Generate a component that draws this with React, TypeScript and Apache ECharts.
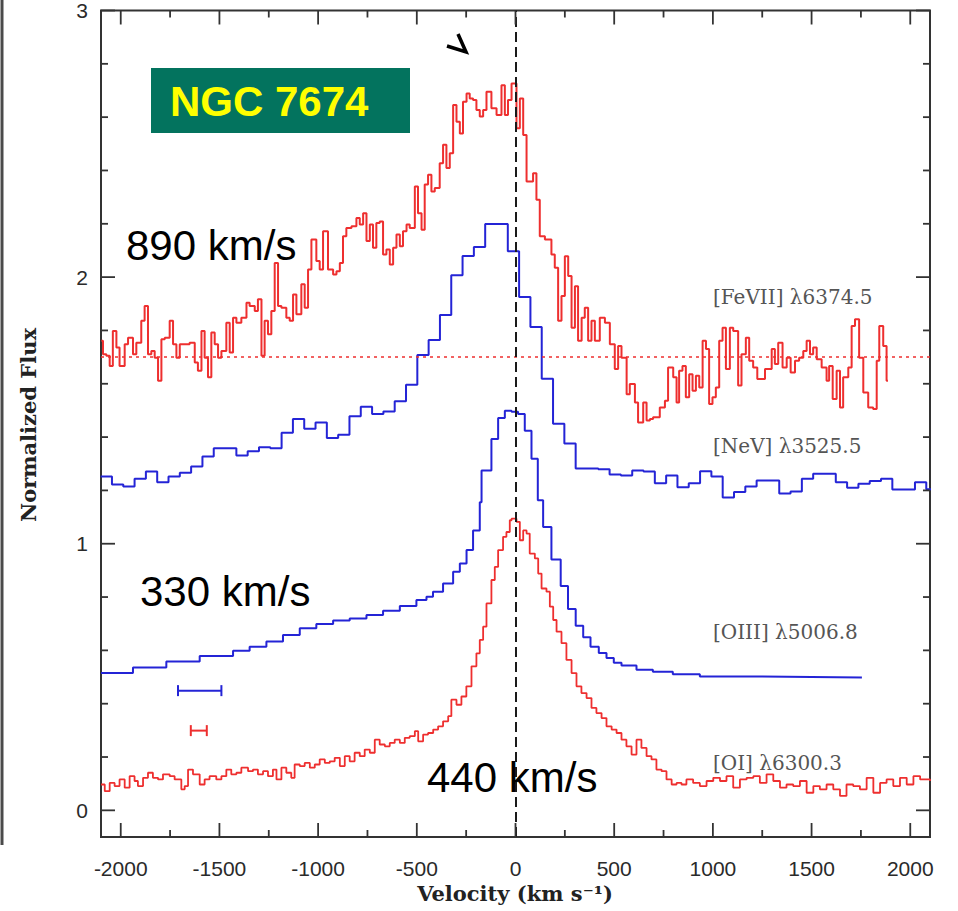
import React, { useEffect, useRef } from "react";
import * as echarts from "echarts";

// ---------- axis ticks ----------
const xTicksMajor = [-2000, -1500, -1000, -500, 0, 500, 1000, 1500, 2000];
const xTicksMinor = [-1750, -1250, -750, -250, 250, 750, 1250, 1750];
const yTicksMajor = [0, 1, 2, 3];
const yTicksMinor = [0.2, 0.4, 0.6, 0.8, 1.2, 1.4, 1.6, 1.8, 2.2, 2.4, 2.6, 2.8];

// ---------- texts ----------
const galaxyName = "NGC 7674";
const widthLabels = ["890 km/s", "330 km/s", "440 km/s"];
const lineLabels = ["[FeVII] λ6374.5", "[NeV] λ3525.5", "[OIII] λ5006.8", "[OI] λ6300.3"];
const xAxisTitle = "Velocity (km s⁻¹)";
const yAxisTitle = "Normalized Flux";

// ---------- data ----------
const feviiContinuum = 1.7;
const zeroVelocity = 0;

// [FeVII] : [velocity bin left edge, flux]
const feviiData: number[][] = [
  [-2098, 1.761], [-2090, 1.711], [-2073, 1.705], [-2056, 1.667], [-2040, 1.798], [-2022, 1.736], [-2006, 1.667],
  [-1980, 1.748], [-1963, 1.773], [-1938, 1.711], [-1921, 1.754], [-1896, 1.836], [-1879, 1.892], [-1862, 1.711],
  [-1845, 1.723], [-1828, 1.698], [-1811, 1.611], [-1794, 1.767], [-1777, 1.773], [-1752, 1.836], [-1735, 1.748],
  [-1718, 1.698], [-1701, 1.748], [-1651, 1.754], [-1625, 1.68], [-1609, 1.649], [-1591, 1.798], [-1575, 1.698],
  [-1558, 1.624], [-1541, 1.792], [-1524, 1.748], [-1507, 1.698], [-1490, 1.723], [-1465, 1.829], [-1448, 1.717],
  [-1431, 1.848], [-1414, 1.829], [-1389, 1.848], [-1363, 1.904], [-1347, 1.892], [-1321, 1.873], [-1305, 1.917],
  [-1287, 1.705], [-1271, 1.836], [-1254, 1.786], [-1237, 1.873], [-1220, 2.053], [-1203, 1.892], [-1186, 1.885],
  [-1161, 1.848], [-1144, 1.836], [-1127, 1.935], [-1110, 1.861], [-1085, 1.973], [-1068, 1.885], [-1051, 2.029],
  [-1034, 2.141], [-1009, 2.06], [-992, 2.029], [-975, 2.172], [-950, 2.029], [-924, 2.01], [-907, 2.022],
  [-890, 2.053], [-874, 2.153], [-857, 2.184], [-831, 2.191], [-806, 2.222], [-789, 2.197], [-772, 2.24],
  [-755, 2.135], [-738, 2.197], [-722, 2.11], [-705, 2.203], [-688, 2.209], [-671, 2.085], [-654, 2.104],
  [-637, 2.047], [-620, 2.11], [-603, 2.16], [-586, 2.116], [-570, 2.172], [-552, 2.197], [-536, 2.184],
  [-510, 2.34], [-494, 2.24], [-476, 2.178], [-460, 2.347], [-443, 2.384], [-426, 2.321], [-409, 2.334],
  [-384, 2.427], [-367, 2.496], [-350, 2.409], [-333, 2.465], [-316, 2.646], [-299, 2.583], [-282, 2.539],
  [-266, 2.658], [-248, 2.689], [-232, 2.67], [-215, 2.664], [-198, 2.627], [-181, 2.602], [-164, 2.627],
  [-147, 2.695], [-122, 2.633], [-96, 2.608], [-71, 2.72], [-54, 2.608], [-38, 2.664], [-20, 2.726],
  [5, 2.558], [22, 2.67], [39, 2.533], [56, 2.359], [89, 2.39], [106, 2.29], [123, 2.153], [149, 2.141],
  [182, 2.085], [199, 2.035], [216, 1.836], [233, 1.929], [250, 2.078], [267, 2.004], [284, 1.81], [301, 1.966],
  [317, 1.761], [335, 1.848], [351, 1.885], [368, 1.761], [385, 1.836], [402, 1.761], [427, 1.848], [453, 1.829],
  [478, 1.748], [503, 1.655], [520, 1.742], [537, 1.698], [563, 1.561], [579, 1.599], [605, 1.53], [621, 1.455],
  [647, 1.53], [664, 1.462], [681, 1.468], [697, 1.474], [731, 1.511], [757, 1.536], [773, 1.661], [799, 1.624],
  [816, 1.53], [829, 1.649], [846, 1.667], [863, 1.549], [880, 1.636], [897, 1.574], [914, 1.63], [931, 1.586],
  [948, 1.761], [965, 1.73], [981, 1.524], [998, 1.549], [1015, 1.586], [1032, 1.761], [1049, 1.81], [1066, 1.655],
  [1086, 1.81], [1103, 1.798], [1128, 1.593], [1145, 1.711], [1167, 1.773], [1184, 1.686], [1204, 1.661],
  [1225, 1.618], [1264, 1.655], [1298, 1.73], [1314, 1.674], [1331, 1.754], [1353, 1.661], [1374, 1.698],
  [1394, 1.642], [1416, 1.686], [1437, 1.698], [1458, 1.723], [1475, 1.761], [1492, 1.711], [1508, 1.736],
  [1526, 1.692], [1551, 1.661], [1576, 1.611], [1589, 1.667], [1607, 1.543], [1627, 1.649], [1644, 1.511],
  [1660, 1.624], [1686, 1.661], [1703, 1.817], [1720, 1.842], [1741, 1.698], [1762, 1.567], [1787, 1.511],
  [1812, 1.505], [1830, 1.686], [1843, 1.817], [1863, 1.742], [1880, 1.611], [1887, 1.611],
];

// [NeV] : regular bins
const nevBinStart = -2101.8;
const nevBinWidth = 57.3;
const nevFlux = [
  1.252, 1.222, 1.215, 1.244, 1.271, 1.231, 1.252, 1.266, 1.29, 1.327, 1.358, 1.358, 1.331, 1.347, 1.362, 1.358,
  1.416, 1.468, 1.431, 1.455, 1.397, 1.409, 1.478, 1.514, 1.487, 1.496, 1.534, 1.596, 1.708, 1.764, 1.858, 2.007,
  2.079, 2.113, 2.199, 2.199, 2.097, 1.925, 1.813, 1.619, 1.45, 1.376, 1.282, 1.282, 1.279, 1.26, 1.256, 1.275,
  1.271, 1.227, 1.256, 1.212, 1.227, 1.272, 1.252, 1.173, 1.194, 1.215, 1.237, 1.237, 1.188, 1.196, 1.244, 1.262,
  1.262, 1.231, 1.21, 1.225, 1.235, 1.244, 1.203, 1.203, 1.231, 1.204,
];

// [OIII]
const oiiiData: number[][] = [
  [-2100, 0.515], [-1938, 0.536], [-1769, 0.558], [-1600, 0.579], [-1431, 0.599], [-1347, 0.614], [-1262, 0.633],
  [-1178, 0.658], [-1093, 0.683], [-1009, 0.699], [-924, 0.712], [-840, 0.72], [-755, 0.733], [-671, 0.749],
  [-586, 0.766], [-502, 0.789], [-451, 0.801], [-418, 0.82], [-367, 0.851], [-316, 0.895], [-282, 0.926],
  [-248, 0.976], [-215, 1.05], [-181, 1.156], [-172, 1.275], [-122, 1.393], [-88, 1.472], [-54, 1.499],
  [-20, 1.495], [13, 1.487], [47, 1.424], [81, 1.319], [113, 1.163], [140, 1.063], [182, 0.941], [229, 0.841],
  [266, 0.755], [305, 0.692], [343, 0.649], [380, 0.614], [422, 0.59], [461, 0.571], [498, 0.554], [537, 0.543],
  [613, 0.527], [696, 0.52], [797, 0.51], [934, 0.502], [1200, 0.5], [1500, 0.498], [1755, 0.498],
];

// [OI]
const oiData: number[][] = [
  [-2100, 0.097], [-2081, 0.072], [-2056, 0.103], [-2031, 0.091], [-2006, 0.116], [-1980, 0.085], [-1955, 0.128],
  [-1930, 0.11], [-1913, 0.091], [-1887, 0.122], [-1862, 0.141], [-1837, 0.122], [-1811, 0.116], [-1786, 0.135],
  [-1752, 0.128], [-1727, 0.116], [-1693, 0.079], [-1676, 0.091], [-1659, 0.153], [-1634, 0.135], [-1600, 0.097],
  [-1575, 0.116], [-1550, 0.128], [-1516, 0.116], [-1490, 0.128], [-1465, 0.153], [-1440, 0.135], [-1414, 0.141],
  [-1389, 0.16], [-1355, 0.147], [-1330, 0.153], [-1305, 0.135], [-1279, 0.147], [-1254, 0.128], [-1229, 0.153],
  [-1211, 0.116], [-1186, 0.16], [-1161, 0.141], [-1136, 0.122], [-1119, 0.172], [-1093, 0.166], [-1068, 0.178],
  [-1042, 0.16], [-1017, 0.172], [-992, 0.191], [-966, 0.178], [-941, 0.184], [-916, 0.197], [-890, 0.166],
  [-865, 0.203], [-840, 0.184], [-815, 0.216], [-789, 0.203], [-764, 0.228], [-738, 0.216], [-713, 0.265],
  [-688, 0.247], [-662, 0.24], [-637, 0.253], [-612, 0.265], [-586, 0.253], [-561, 0.272], [-536, 0.278],
  [-510, 0.297], [-493, 0.259], [-468, 0.284], [-443, 0.29], [-417, 0.303], [-392, 0.315], [-367, 0.334],
  [-341, 0.353], [-325, 0.415], [-299, 0.396], [-274, 0.427], [-249, 0.465], [-223, 0.54], [-198, 0.589],
  [-181, 0.639], [-164, 0.689], [-147, 0.776], [-122, 0.864], [-105, 0.913], [-88, 0.976], [-63, 1.026],
  [-46, 1.044], [-29, 1.088], [-20, 1.094], [5, 1.082], [22, 1.013], [39, 1.05], [56, 1.038], [72, 0.963],
  [98, 0.945], [115, 0.888], [132, 0.832], [157, 0.82], [174, 0.764], [191, 0.714], [208, 0.67], [233, 0.627],
  [258, 0.564], [284, 0.515], [309, 0.465], [334, 0.44], [360, 0.421], [385, 0.384], [410, 0.365], [436, 0.346],
  [461, 0.315], [487, 0.303], [512, 0.29], [537, 0.265], [562, 0.24], [588, 0.209], [613, 0.265], [638, 0.234],
  [664, 0.203], [689, 0.191], [714, 0.153], [740, 0.147], [765, 0.116], [791, 0.097], [816, 0.103], [841, 0.097],
  [866, 0.116], [900, 0.103], [934, 0.091], [968, 0.11], [1002, 0.122], [1036, 0.11], [1069, 0.128], [1103, 0.085],
  [1137, 0.116], [1171, 0.122], [1205, 0.128], [1238, 0.103], [1272, 0.135], [1306, 0.11], [1340, 0.085],
  [1373, 0.097], [1407, 0.091], [1441, 0.11], [1475, 0.066], [1509, 0.091], [1542, 0.079], [1576, 0.097],
  [1610, 0.079], [1644, 0.054], [1677, 0.097], [1711, 0.091], [1745, 0.079], [1779, 0.122], [1813, 0.066],
  [1847, 0.103], [1880, 0.116], [1914, 0.091], [1948, 0.122], [1982, 0.097], [2016, 0.128], [2050, 0.116],
  [2100, 0.11],
];

// instrumental resolution bars: [from velocity, flux level, to velocity]
const oiiiResolution = [-1710, 0.449, -1490];
const oiResolution = [-1645, 0.299, -1564];

// ---------- styles ----------
const RED = "#ee2f2f";
const BLUE = "#2424d6";
const FRAME = "#333333";
const SANS = '"Liberation Sans", Arial, Helvetica, sans-serif';
const SERIF = '"DejaVu Serif", serif';

const nevData: number[][] = nevFlux.map((f, i) => [nevBinStart + i * nevBinWidth, f]);
nevData.push([nevBinStart + nevFlux.length * nevBinWidth, nevFlux[nevFlux.length - 1]]);

function tickSeries(vals: number[], axis: "x" | "y", len: number) {
  return {
    type: "custom",
    silent: true,
    clip: false,
    z: 10,
    data: vals.map((v) => (axis === "x" ? [v, 1] : [0, v])),
    renderItem: (params: any, api: any) => {
      const cs = params.coordSys;
      const st = { stroke: FRAME, lineWidth: 1.8 };
      if (axis === "x") {
        const x = api.coord([api.value(0), 1])[0];
        const b = cs.y + cs.height;
        const t = cs.y;
        return {
          type: "group",
          children: [
            { type: "line", shape: { x1: x, y1: b, x2: x, y2: b - len }, style: st },
            { type: "line", shape: { x1: x, y1: t, x2: x, y2: t + len }, style: st },
          ],
        };
      }
      const y = api.coord([0, api.value(1)])[1];
      const l = cs.x;
      const r = cs.x + cs.width;
      return {
        type: "group",
        children: [
          { type: "line", shape: { x1: l, y1: y, x2: l + len, y2: y }, style: st },
          { type: "line", shape: { x1: r, y1: y, x2: r - len, y2: y }, style: st },
        ],
      };
    },
  };
}

function resolutionSeries(d: number[], color: string) {
  return {
    type: "custom",
    silent: true,
    clip: false,
    z: 4,
    data: [d],
    renderItem: (_p: any, api: any) => {
      const a = api.coord([api.value(0), api.value(1)]);
      const b = api.coord([api.value(2), api.value(1)]);
      const h = 5.5;
      const st = { stroke: color, lineWidth: 2 };
      return {
        type: "group",
        children: [
          { type: "line", shape: { x1: a[0], y1: a[1], x2: b[0], y2: b[1] }, style: st },
          { type: "line", shape: { x1: a[0], y1: a[1] - h, x2: a[0], y2: a[1] + h }, style: st },
          { type: "line", shape: { x1: b[0], y1: b[1] - h, x2: b[0], y2: b[1] + h }, style: st },
        ],
      };
    },
  };
}

function stepLine(name: string, data: number[][], color: string, width: number, extra: any = {}) {
  return {
    name,
    type: "line",
    step: "end",
    data,
    symbol: "none",
    clip: true,
    lineStyle: { color, width },
    itemStyle: { color },
    z: 3,
    ...extra,
  };
}

const option: any = {
  animation: false,
  backgroundColor: "#ffffff",
  grid: {
    left: 101,
    top: 9,
    right: 28,
    bottom: 74,
    show: true,
    borderColor: FRAME,
    borderWidth: 2,
    backgroundColor: "transparent",
  },
  xAxis: {
    type: "value",
    min: -2100,
    max: 2100,
    interval: 50,
    axisLine: { show: false },
    axisTick: { show: false },
    splitLine: { show: false },
    axisLabel: {
      margin: 21,
      color: "#2a2a2a",
      fontSize: 21,
      fontFamily: SANS,
      formatter: (v: number) => (Math.abs(v % 500) < 1e-6 ? String(Math.round(v)) : ""),
    },
  },
  yAxis: {
    type: "value",
    min: -0.1,
    max: 3,
    interval: 0.1,
    axisLine: { show: false },
    axisTick: { show: false },
    splitLine: { show: false },
    axisLabel: {
      margin: 13,
      color: "#2a2a2a",
      fontSize: 21,
      fontFamily: SANS,
      formatter: (v: number) => {
        const r = Math.round(v);
        return Math.abs(v - r) < 1e-6 ? String(r) : "";
      },
    },
  },
  series: [
    stepLine("[FeVII]", feviiData, RED, 2, {
      markLine: {
        silent: true,
        symbol: ["none", "none"],
        label: { show: false },
        lineStyle: { color: RED, width: 1.6, type: [3, 4] },
        data: [{ yAxis: feviiContinuum }],
      },
    }),
    stepLine("[NeV]", nevData, BLUE, 2, {
      markLine: {
        silent: true,
        symbol: ["none", "none"],
        label: { show: false },
        lineStyle: { color: "#1a1a1a", width: 2, type: [10, 5] },
        data: [{ xAxis: zeroVelocity }],
        z: 6,
      },
    }),
    stepLine("[OIII]", oiiiData, BLUE, 2),
    stepLine("[OI]", oiData, RED, 1.8),
    resolutionSeries(oiiiResolution, BLUE),
    resolutionSeries(oiResolution, RED),
    tickSeries(xTicksMajor, "x", 14),
    tickSeries(xTicksMinor, "x", 7),
    tickSeries(yTicksMajor, "y", 14),
    tickSeries(yTicksMinor, "y", 7),
  ],
  graphic: [
    { type: "line", shape: { x1: 2, y1: 0, x2: 2, y2: 845 }, style: { stroke: "#4a4a4a", lineWidth: 3 } },
    { type: "rect", shape: { x: 151, y: 68, width: 259, height: 65 }, style: { fill: "#03735e" } },
    {
      type: "text",
      x: 170,
      y: 101,
      style: {
        text: galaxyName,
        fill: "#ffff00",
        fontSize: 42,
        fontWeight: "bold",
        fontFamily: SANS,
        verticalAlign: "middle",
        align: "left",
      },
    },
    {
      type: "text",
      x: 126,
      y: 245,
      style: { text: widthLabels[0], fill: "#000", fontSize: 42, fontFamily: SANS, verticalAlign: "middle" },
    },
    {
      type: "text",
      x: 140,
      y: 591,
      style: { text: widthLabels[1], fill: "#000", fontSize: 42, fontFamily: SANS, verticalAlign: "middle" },
    },
    {
      type: "text",
      x: 427,
      y: 777,
      style: { text: widthLabels[2], fill: "#000", fontSize: 42, fontFamily: SANS, verticalAlign: "middle" },
    },
    {
      type: "polyline",
      shape: { points: [[458, 34], [466, 52], [447, 46]] },
      style: { stroke: "#000", lineWidth: 3.5, fill: null },
    },
    {
      type: "text",
      x: 713,
      y: 297,
      style: { text: lineLabels[0], fill: "#555", fontSize: 20, fontFamily: SERIF, verticalAlign: "middle" },
    },
    {
      type: "text",
      x: 713,
      y: 446,
      style: { text: lineLabels[1], fill: "#555", fontSize: 20, fontFamily: SERIF, verticalAlign: "middle" },
    },
    {
      type: "text",
      x: 713,
      y: 632,
      style: { text: lineLabels[2], fill: "#555", fontSize: 20, fontFamily: SERIF, verticalAlign: "middle" },
    },
    {
      type: "text",
      x: 713,
      y: 763,
      style: { text: lineLabels[3], fill: "#555", fontSize: 20, fontFamily: SERIF, verticalAlign: "middle" },
    },
    {
      type: "text",
      x: 515,
      y: 893,
      style: {
        text: xAxisTitle,
        fill: "#222",
        fontSize: 21,
        fontWeight: "bold",
        fontFamily: SERIF,
        align: "center",
        verticalAlign: "middle",
      },
    },
    {
      type: "text",
      x: 28,
      y: 425,
      rotation: Math.PI / 2,
      style: {
        text: yAxisTitle,
        fill: "#222",
        fontSize: 21,
        fontWeight: "bold",
        fontFamily: SERIF,
        align: "center",
        verticalAlign: "middle",
      },
    },
  ],
};

export default function App() {
  const ref = useRef<HTMLDivElement>(null);
  useEffect(() => {
    const chart = echarts.init(ref.current as HTMLDivElement, null, { renderer: "svg" });
    chart.setOption(option);
    return () => chart.dispose();
  }, []);
  return (
    <div
      ref={ref}
      style={{ position: "fixed", left: 0, top: 0, width: 958, height: 911, background: "#ffffff" }}
    />
  );
}
